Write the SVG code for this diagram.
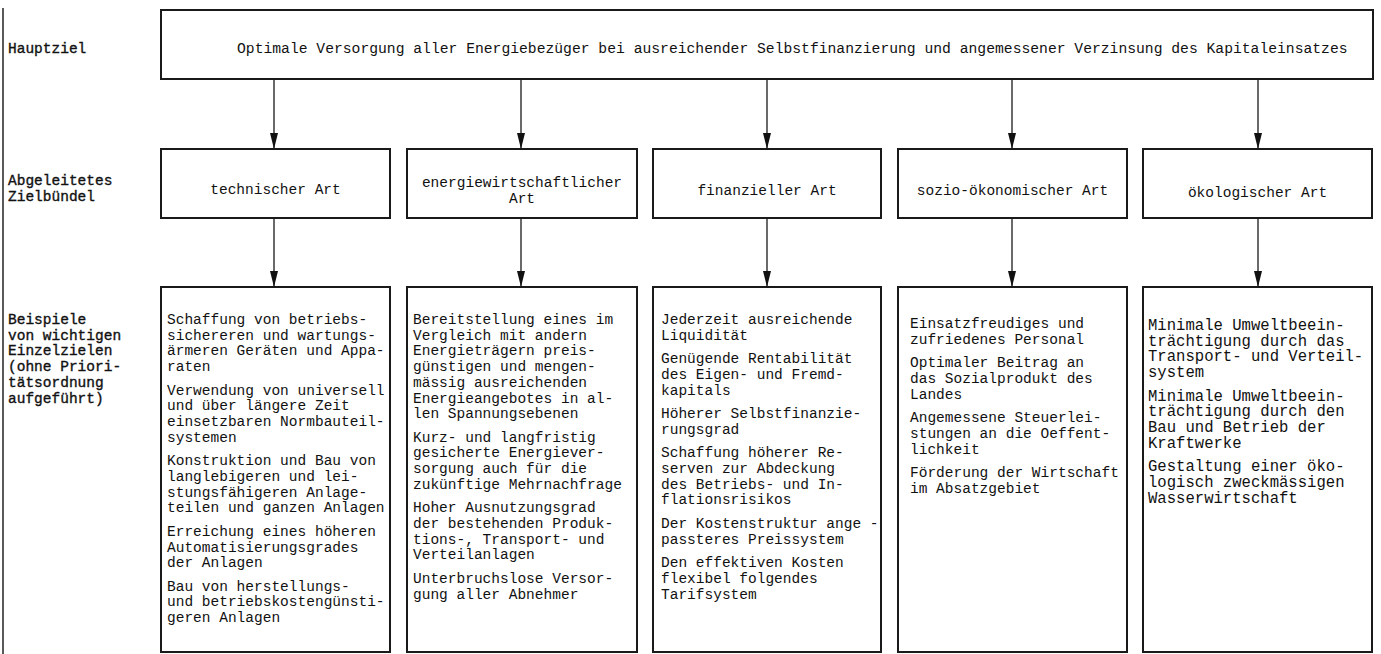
<svg xmlns="http://www.w3.org/2000/svg" width="1381" height="654" viewBox="0 0 1381 654">
<style>
.box{fill:#fff;stroke:#1a1a1a;stroke-width:2}
.t{font-family:"Liberation Mono","DejaVu Sans Mono",monospace;font-size:14.5px;fill:#111}
.lbl{font-family:"Liberation Mono","DejaVu Sans Mono",monospace;font-size:14.5px;fill:#111;stroke:#111;stroke-width:0.35}
.c{text-anchor:middle}
.conn line{stroke:#1a1a1a;stroke-width:1.3}
</style>
<defs>
<marker id="ah" viewBox="0 0 16 8" refX="16" refY="4" markerWidth="16" markerHeight="8" markerUnits="userSpaceOnUse" orient="auto">
<path d="M0,0 L16,4 L0,8 Z" fill="#111"/>
</marker>
</defs>
<rect width="1381" height="654" fill="#fff"/>
<line x1="3" y1="8" x2="3" y2="654" stroke="#222" stroke-width="1.5"/>

<g id="labels">
<text class="lbl" x="8" y="53">Hauptziel</text>
<text class="lbl" x="8" y="185">Abgeleitetes<tspan x="8" dy="16">Zielbündel</tspan></text>
<text class="lbl" x="8" y="324">Beispiele<tspan x="8" dy="15.7">von wichtigen</tspan><tspan x="8" dy="15.7">Einzelzielen</tspan><tspan x="8" dy="15.7">(ohne Priori-</tspan><tspan x="8" dy="15.7">tätsordnung</tspan><tspan x="8" dy="15.7">aufgeführt)</tspan></text>
</g>

<g id="hauptziel">
<rect class="box" x="161" y="10" width="1212" height="69"/>
<text class="t" x="237" y="53" style="font-size:14.7px">Optimale Versorgung aller Energiebezüger bei ausreichender Selbstfinanzierung und angemessener Verzinsung des Kapitaleinsatzes</text>
</g>

<g class="conn" id="connectors">
<line x1="274" y1="79" x2="274" y2="149" marker-end="url(#ah)"/>
<line x1="521" y1="79" x2="521" y2="149" marker-end="url(#ah)"/>
<line x1="767" y1="79" x2="767" y2="149" marker-end="url(#ah)"/>
<line x1="1012" y1="79" x2="1012" y2="149" marker-end="url(#ah)"/>
<line x1="1258" y1="79" x2="1258" y2="149" marker-end="url(#ah)"/>
<line x1="274" y1="218" x2="274" y2="287" marker-end="url(#ah)"/>
<line x1="521" y1="218" x2="521" y2="287" marker-end="url(#ah)"/>
<line x1="767" y1="218" x2="767" y2="287" marker-end="url(#ah)"/>
<line x1="1012" y1="218" x2="1012" y2="287" marker-end="url(#ah)"/>
<line x1="1258" y1="218" x2="1258" y2="287" marker-end="url(#ah)"/>
</g>

<g id="ziel-technisch">
<rect class="box" x="161" y="149" width="229" height="69"/>
<text class="t c" x="275.5" y="194">technischer Art</text>
</g>
<g id="ziel-energiewirtschaftlich">
<rect class="box" x="407" y="149" width="230" height="69"/>
<text class="t c" x="522" y="187">energiewirtschaftlicher<tspan x="522" dy="16">Art</tspan></text>
</g>
<g id="ziel-finanziell">
<rect class="box" x="653" y="149" width="228" height="69"/>
<text class="t c" x="767" y="195">finanzieller Art</text>
</g>
<g id="ziel-soziooekonomisch">
<rect class="box" x="898" y="149" width="229" height="69"/>
<text class="t c" x="1012.5" y="195">sozio-ökonomischer Art</text>
</g>
<g id="ziel-oekologisch">
<rect class="box" x="1143" y="149" width="229" height="69"/>
<text class="t c" x="1257.5" y="197">ökologischer Art</text>
</g>

<g id="einzel-technisch">
<rect class="box" x="161" y="287" width="229" height="365"/>
<text class="t" x="167" y="324">Schaffung von betriebs-<tspan x="167" dy="15.7">sichereren und wartungs-</tspan><tspan x="167" dy="15.7">ärmeren Geräten und Appa-</tspan><tspan x="167" dy="15.7">raten</tspan><tspan x="167" dy="23.5">Verwendung von universell</tspan><tspan x="167" dy="15.7">und über längere Zeit</tspan><tspan x="167" dy="15.7">einsetzbaren Normbauteil-</tspan><tspan x="167" dy="15.7">systemen</tspan><tspan x="167" dy="23.5">Konstruktion und Bau von</tspan><tspan x="167" dy="15.7">langlebigeren und lei-</tspan><tspan x="167" dy="15.7">stungsfähigeren Anlage-</tspan><tspan x="167" dy="15.7">teilen und ganzen Anlagen</tspan><tspan x="167" dy="23.5">Erreichung eines höheren</tspan><tspan x="167" dy="15.7">Automatisierungsgrades</tspan><tspan x="167" dy="15.7">der Anlagen</tspan><tspan x="167" dy="23.5">Bau von herstellungs-</tspan><tspan x="167" dy="15.7">und betriebskostengünsti-</tspan><tspan x="167" dy="15.7">geren Anlagen</tspan></text>
</g>

<g id="einzel-energiewirtschaftlich">
<rect class="box" x="407" y="287" width="230" height="365"/>
<text class="t" x="413" y="324">Bereitstellung eines im<tspan x="413" dy="15.7">Vergleich mit andern</tspan><tspan x="413" dy="15.7">Energieträgern preis-</tspan><tspan x="413" dy="15.7">günstigen und mengen-</tspan><tspan x="413" dy="15.7">mässig ausreichenden</tspan><tspan x="413" dy="15.7">Energieangebotes in al-</tspan><tspan x="413" dy="15.7">len Spannungsebenen</tspan><tspan x="413" dy="23.5">Kurz- und langfristig</tspan><tspan x="413" dy="15.7">gesicherte Energiever-</tspan><tspan x="413" dy="15.7">sorgung auch für die</tspan><tspan x="413" dy="15.7">zukünftige Mehrnachfrage</tspan><tspan x="413" dy="23.5">Hoher Ausnutzungsgrad</tspan><tspan x="413" dy="15.7">der bestehenden Produk-</tspan><tspan x="413" dy="15.7">tions-, Transport- und</tspan><tspan x="413" dy="15.7">Verteilanlagen</tspan><tspan x="413" dy="23.5">Unterbruchslose Versor-</tspan><tspan x="413" dy="15.7">gung aller Abnehmer</tspan></text>
</g>

<g id="einzel-finanziell">
<rect class="box" x="653" y="287" width="228" height="365"/>
<text class="t" x="661" y="324">Jederzeit ausreichende<tspan x="661" dy="15.7">Liquidität</tspan><tspan x="661" dy="23.5">Genügende Rentabilität</tspan><tspan x="661" dy="15.7">des Eigen- und Fremd-</tspan><tspan x="661" dy="15.7">kapitals</tspan><tspan x="661" dy="23.5">Höherer Selbstfinanzie-</tspan><tspan x="661" dy="15.7">rungsgrad</tspan><tspan x="661" dy="23.5">Schaffung höherer Re-</tspan><tspan x="661" dy="15.7">serven zur Abdeckung</tspan><tspan x="661" dy="15.7">des Betriebs- und In-</tspan><tspan x="661" dy="15.7">flationsrisikos</tspan><tspan x="661" dy="23.5">Der Kostenstruktur ange -</tspan><tspan x="661" dy="15.7">passteres Preissystem</tspan><tspan x="661" dy="23.5">Den effektiven Kosten</tspan><tspan x="661" dy="15.7">flexibel folgendes</tspan><tspan x="661" dy="15.7">Tarifsystem</tspan></text>
</g>

<g id="einzel-soziooekonomisch">
<rect class="box" x="898" y="287" width="229" height="365"/>
<text class="t" x="910" y="328">Einsatzfreudiges und<tspan x="910" dy="15.7">zufriedenes Personal</tspan><tspan x="910" dy="23.5">Optimaler Beitrag an</tspan><tspan x="910" dy="15.7">das Sozialprodukt des</tspan><tspan x="910" dy="15.7">Landes</tspan><tspan x="910" dy="23.5">Angemessene Steuerlei-</tspan><tspan x="910" dy="15.7">stungen an die Oeffent-</tspan><tspan x="910" dy="15.7">lichkeit</tspan><tspan x="910" dy="23.5">Förderung der Wirtschaft</tspan><tspan x="910" dy="15.7">im Absatzgebiet</tspan></text>
</g>

<g id="einzel-oekologisch">
<rect class="box" x="1143" y="287" width="229" height="365"/>
<text class="t" x="1148" y="330" style="font-size:15.6px">Minimale Umweltbeein-<tspan x="1148" dy="15.7">trächtigung durch das</tspan><tspan x="1148" dy="15.7">Transport- und Verteil-</tspan><tspan x="1148" dy="15.7">system</tspan><tspan x="1148" dy="23.5">Minimale Umweltbeein-</tspan><tspan x="1148" dy="15.7">trächtigung durch den</tspan><tspan x="1148" dy="15.7">Bau und Betrieb der</tspan><tspan x="1148" dy="15.7">Kraftwerke</tspan><tspan x="1148" dy="23.5">Gestaltung einer öko-</tspan><tspan x="1148" dy="15.7">logisch zweckmässigen</tspan><tspan x="1148" dy="15.7">Wasserwirtschaft</tspan></text>
</g>
</svg>
